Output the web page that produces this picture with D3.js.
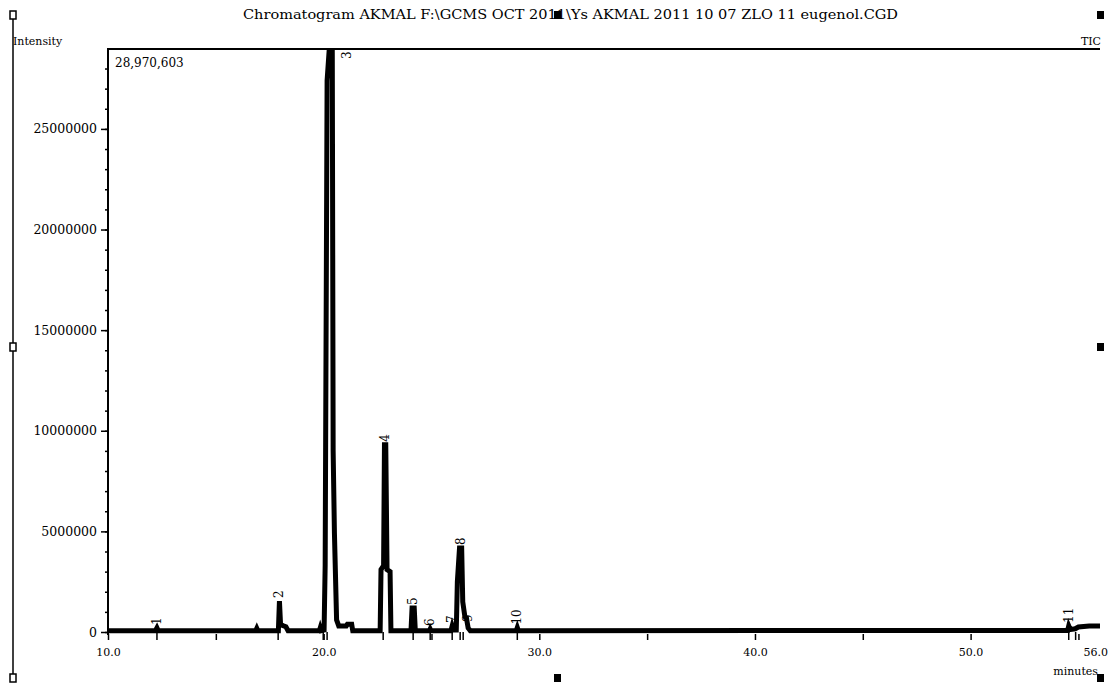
<!DOCTYPE html>
<html>
<head>
<meta charset="utf-8">
<script src="https://cdn.jsdelivr.net/npm/d3@7"></script>
<style>
  body { margin: 0; background: #fff; }
  text { font-family: "DejaVu Serif", "Liberation Serif", serif; fill: #000; }
</style>
</head>
<body>
<div id="chart"></div>
<script>
const width = 1109;
const height = 683;

const titleText = "Chromatogram AKMAL F:\\GCMS OCT 2011\\Ys AKMAL 2011 10 07 ZLO 11 eugenol.CGD";
const maxIntensity = 28970603;
const timeRange = [10, 56];
const xMajorTicks = [10, 20, 30, 40, 50];
const xMinorTicks = [15, 25, 35, 45, 55];
const yMajorTicks = [0, 5000000, 10000000, 15000000, 20000000, 25000000];
const yMinorTicks = d3.range(0, 29000000, 1000000);

// TIC trace [minutes, intensity]
const trace = [
  [10.00, 60000], [12.20, 60000], [12.27, 200000], [12.33, 60000],
  [16.85, 60000], [16.90, 180000], [16.95, 60000],
  [17.90, 60000], [17.95, 1540000], [18.00, 400000], [18.10, 320000], [18.25, 260000], [18.35, 60000],
  [19.80, 60000], [19.84, 200000], [19.88, 60000], [20.02, 100000],
  [20.07, 3300000], [20.16, 27400000], [20.26, 28970603], [20.40, 28900000],
  [20.44, 9000000], [20.50, 4900000], [20.60, 600000], [20.70, 300000],
  [21.05, 300000], [21.10, 380000], [21.30, 380000], [21.35, 60000],
  [22.62, 60000], [22.66, 3100000], [22.78, 3300000], [22.82, 9300000], [22.88, 9300000],
  [22.94, 3100000], [23.08, 3000000], [23.12, 60000],
  [24.05, 60000], [24.10, 1190000], [24.20, 1190000], [24.25, 60000],
  [24.90, 60000], [24.94, 150000], [24.98, 60000],
  [25.90, 60000], [25.96, 300000], [26.02, 100000],
  [26.15, 100000], [26.20, 2500000], [26.30, 4170000], [26.40, 4170000], [26.45, 1500000],
  [26.55, 750000], [26.62, 700000], [26.70, 200000], [26.80, 60000],
  [28.93, 60000], [28.98, 220000], [29.03, 60000],
  [54.50, 80000], [54.55, 300000], [54.62, 120000], [54.85, 160000],
  [55.00, 250000], [55.50, 300000], [56.00, 300000]
];

const peakNumbers = ["1", "2", "3", "4", "5", "6", "7", "8", "9", "10", "11"];
const peakTimes = [12.27, 17.95, 20.30, 22.85, 24.15, 24.94, 25.96, 26.35, 26.70, 28.98, 54.55];
const peakHeights = [200000, 1540000, 28970603, 9300000, 1190000, 150000, 300000, 4170000, 350000, 220000, 300000];
const markerTimes = [12.27, 17.89, 19.98, 20.16, 22.76, 24.15, 24.94, 25.96, 26.33, 26.47, 28.98, 54.55, 54.87];

const plotLeft = 108, plotRight = 1100, plotTop = 49, plotBottom = 632;

const svg = d3.select("#chart")
  .append("svg")
  .attr("width", width)
  .attr("height", height)
  .attr("viewBox", [0, 0, width, height]);

let x = d3.scaleLinear().domain(timeRange).range([plotLeft, plotRight]);
let y = d3.scaleLinear().domain([0, maxIntensity]).range([plotBottom, plotTop]);

// title and corner labels
svg.append("text")
  .attr("x", 243).attr("y", 19)
  .attr("font-size", 12)
  .attr("textLength", 655)
  .attr("lengthAdjust", "spacingAndGlyphs")
  .text(titleText);
svg.append("text").attr("x", 13).attr("y", 45).attr("font-size", 11).text("Intensity");
svg.append("text").attr("x", 1101).attr("y", 45).attr("font-size", 11)
  .attr("text-anchor", "end").text("TIC");
svg.append("text").attr("x", 115).attr("y", 67).attr("font-size", 12)
  .text(d3.format(",")(maxIntensity));
svg.append("text").attr("x", 1098).attr("y", 675).attr("font-size", 11)
  .attr("text-anchor", "end").text("minutes");

// frame
svg.append("line")
  .attr("stroke", "black").attr("stroke-width", 2)
  .attr("x1", plotLeft - 1).attr("y1", plotTop)
  .attr("x2", plotRight).attr("y2", plotTop);

// y axis
svg.append("g")
  .attr("transform", `translate(${plotLeft},0)`)
  .call(d3.axisLeft(y).tickValues(yMinorTicks).tickSize(3).tickFormat(""))
  .call(g => g.select(".domain").remove())
  .call(g => g.selectAll("line").attr("stroke-width", 1.5));
svg.append("g")
  .attr("transform", `translate(${plotLeft},0)`)
  .call(d3.axisLeft(y).tickValues(yMajorTicks).tickSize(7).tickPadding(4).tickFormat(d3.format("d")))
  .call(g => g.select(".domain").remove())
  .call(g => g.selectAll("line").attr("stroke-width", 1.5))
  .call(g => g.selectAll("text").attr("font-size", 12.5).attr("font-family", null));
svg.append("line")
  .attr("stroke", "black").attr("stroke-width", 2)
  .attr("x1", plotLeft).attr("y1", plotTop)
  .attr("x2", plotLeft).attr("y2", plotBottom + 3);

// x axis
svg.append("g")
  .attr("transform", `translate(0,${plotBottom + 2})`)
  .call(d3.axisBottom(x).tickValues(xMinorTicks).tickSize(6).tickFormat(""))
  .call(g => g.select(".domain").remove())
  .call(g => g.selectAll("line").attr("stroke-width", 1.5));
svg.append("g")
  .attr("transform", `translate(0,${plotBottom + 2})`)
  .call(d3.axisBottom(x).tickValues(xMajorTicks).tickSize(6).tickPadding(8).tickFormat(d3.format(".1f")))
  .call(g => g.select(".domain").remove())
  .call(g => g.selectAll("line").attr("stroke-width", 1.5))
  .call(g => g.selectAll("text").attr("font-size", 11).attr("font-family", null));
svg.append("text")
  .attr("x", width - 1).attr("y", 656)
  .attr("font-size", 11).attr("text-anchor", "end")
  .text(d3.format(".1f")(timeRange[1]));

// peak markers
svg.append("g")
    .attr("stroke", "black")
    .attr("stroke-width", 1.5)
  .selectAll("line")
  .data(markerTimes)
  .join("line")
    .attr("x1", d => x(d)).attr("x2", d => x(d))
    .attr("y1", plotBottom).attr("y2", plotBottom + 8);

// trace
svg.append("defs").append("clipPath").attr("id", "plot-clip")
  .append("rect")
  .attr("x", plotLeft).attr("y", plotTop)
  .attr("width", plotRight - plotLeft + 5).attr("height", plotBottom - plotTop + 10);

svg.append("path")
  .datum(trace)
  .attr("clip-path", "url(#plot-clip)")
  .attr("fill", "none")
  .attr("stroke", "black")
  .attr("stroke-width", 5)
  .attr("d", d3.line().x(d => x(d[0])).y(d => y(d[1])));

// peak labels (vertical)
svg.append("g")
  .selectAll("text")
  .data(peakNumbers)
  .join("text")
    .attr("font-size", 12)
    .attr("transform", (d, i) => {
      let px = x(peakTimes[i]) + 4;
      let py = y(peakHeights[i]) - 3;
      if (peakHeights[i] >= maxIntensity) { px += 17; py = plotTop + 10; }
      return `translate(${px},${py}) rotate(-90)`;
    })
    .text(d => d);

// selection handles
svg.append("line")
  .attr("stroke", "black").attr("stroke-width", 1.5)
  .attr("x1", 13).attr("y1", 12).attr("x2", 13).attr("y2", 682);
const handlesLeft = [15, 347, 678];
svg.append("g")
  .selectAll("rect")
  .data(handlesLeft)
  .join("rect")
    .attr("x", 10).attr("y", d => d - 4)
    .attr("width", 6).attr("height", 8)
    .attr("fill", "white").attr("stroke", "black").attr("stroke-width", 1.5);
const handlesSolid = [[557, 15], [1100, 15], [1100, 347], [1100, 678], [557, 678]];
svg.append("g")
  .selectAll("rect")
  .data(handlesSolid)
  .join("rect")
    .attr("x", d => d[0] - 3).attr("y", d => d[1] - 4)
    .attr("width", 7).attr("height", 8)
    .attr("fill", "black");
</script>
</body>
</html>
